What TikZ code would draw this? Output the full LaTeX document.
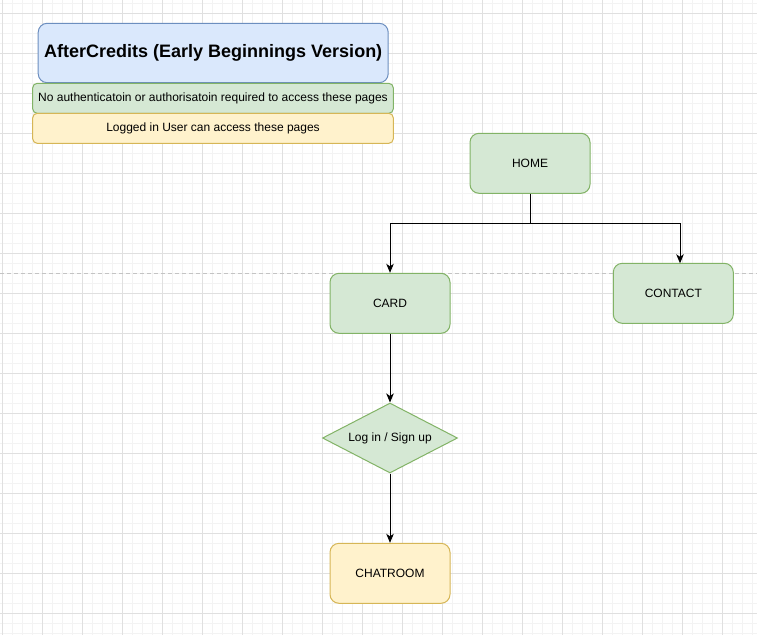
\documentclass[tikz,border=0pt]{standalone}
\usepackage{fontspec}
\setmainfont{Liberation Sans}
\usetikzlibrary{shapes.geometric,arrows.meta}
\definecolor{blueF}{HTML}{DAE8FC}
\definecolor{blueS}{HTML}{6C8EBF}
\definecolor{greenF}{HTML}{D5E8D4}
\definecolor{greenS}{HTML}{82B366}
\definecolor{yelF}{HTML}{FFF2CC}
\definecolor{yelS}{HTML}{D6B656}
\definecolor{gridMinor}{HTML}{F3F3F3}
\definecolor{gridMajor}{HTML}{E0E0E0}
\definecolor{sepline}{HTML}{C4C4C4}
\tikzset{
  page/.style={draw=greenS, fill=greenF, rounded corners=9pt, minimum width=120pt, minimum height=60pt, inner sep=0pt, line width=1pt, font=\fontsize{12}{14}\selectfont},
  yelpage/.style={page, draw=yelS, fill=yelF},
  legend/.style={rounded corners=4.5pt, minimum width=360.6pt, minimum height=30pt, inner sep=0pt, line width=1pt, font=\fontsize{12}{14}\selectfont},
  gate/.style={diamond, draw=greenS, fill=greenF, minimum width=135pt, minimum height=70pt, aspect=1.93, inner sep=0pt, line width=1pt, font=\fontsize{12}{14}\selectfont},
  conn/.style={draw=black, line width=1pt, -{Stealth[length=9pt,width=7.5pt,inset=2.5pt]}},
  plain/.style={draw=black, line width=1pt}
}
\begin{document}
\begin{tikzpicture}[x=1pt,y=-1pt]
\useasboundingbox (0,0) rectangle (757,635);
\fill[white] (0,0) rectangle (757,635);
% grid
\foreach \i in {0,...,75} {
  \draw[gridMinor, line width=1pt] ({2.5+10*\i},0) -- ({2.5+10*\i},635);
}
\foreach \j in {0,...,63} {
  \draw[gridMinor, line width=1pt] (0,{3.3+10*\j}) -- (757,{3.3+10*\j});
}
\foreach \i in {0,...,18} {
  \draw[gridMajor, line width=1pt] ({2.5+40*\i},0) -- ({2.5+40*\i},635);
}
\foreach \j in {0,...,15} {
  \draw[gridMajor, line width=1pt] (0,{13.3+40*\j}) -- (757,{13.3+40*\j});
}
% page separator
\draw[sepline, line width=1pt, dash pattern=on 4pt off 3pt] (0,273.3) -- (757,273.3);

% legend
\node[legend, draw=blueS, fill=blueF, rounded corners=9pt, minimum width=350pt, minimum height=59.4pt, font=\fontsize{18}{21}\selectfont\bfseries] (title) at (213.2,53) {AfterCredits (Early Beginnings Version)};
\node[legend, draw=greenS, fill=greenF] (open) at (213,98.3) {No authenticatoin or authorisatoin required to access these pages};
\node[legend, draw=yelS, fill=yelF] (logged) at (213,128.3) {Logged in User can access these pages};

% pages
\node[page] (home) at (530,163.3) {HOME};
\node[page] (card) at (390,303.3) {CARD};
\node[page] (contact) at (673.3,293.3) {CONTACT};
\node[gate] (login) at (390,438) {Log in / Sign up};
\node[yelpage] (chat) at (390,573.3) {CHATROOM};

% connectors
\coordinate (split) at (530,223.3);
\coordinate (ctin) at (680,263.3);
\draw[plain] (home.south) -- (split);
\draw[conn] (split) -| (card.north);
\draw[conn] (split) -| (ctin);
\draw[conn] (card.south) -- (login.north);
\draw[conn] (login.south) -- (chat.north);
\end{tikzpicture}
\end{document}
